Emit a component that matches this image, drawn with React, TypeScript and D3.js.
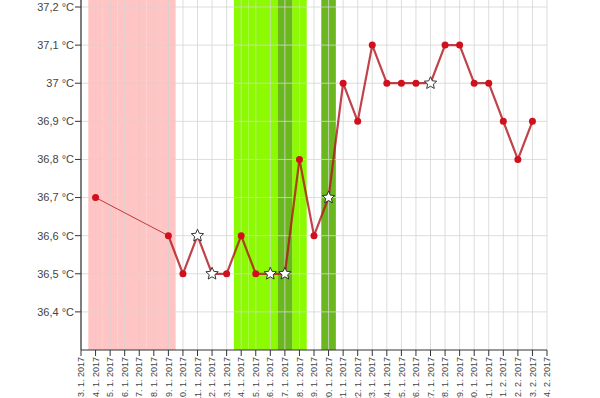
import React from "react";
import * as d3 from "d3";

const dayLabels = [
  "3. 1. 2017", "4. 1. 2017", "5. 1. 2017", "6. 1. 2017", "7. 1. 2017", "8. 1. 2017",
  "9. 1. 2017", "10. 1. 2017", "11. 1. 2017", "12. 1. 2017", "13. 1. 2017", "14. 1. 2017",
  "15. 1. 2017", "16. 1. 2017", "17. 1. 2017", "18. 1. 2017", "19. 1. 2017", "20. 1. 2017",
  "21. 1. 2017", "22. 1. 2017", "23. 1. 2017", "24. 1. 2017", "25. 1. 2017", "26. 1. 2017",
  "27. 1. 2017", "28. 1. 2017", "29. 1. 2017", "30. 1. 2017", "31. 1. 2017", "1. 2. 2017",
  "2. 2. 2017", "3. 2. 2017", "4. 2. 2017",
];

// temperature per day (null = no measurement)
const temps: (number | null)[] = [
  null, 36.7, null, null, null, null, 36.6, 36.5, 36.6, 36.5, 36.5, 36.6,
  36.5, 36.5, 36.5, 36.8, 36.6, 36.7, 37.0, 36.9, 37.1, 37.0, 37.0, 37.0,
  37.0, 37.1, 37.1, 37.0, 37.0, 36.9, 36.8, 36.9, null,
];

// days marked with a star
const starDays = [
  "11. 1. 2017", "12. 1. 2017", "16. 1. 2017", "17. 1. 2017", "20. 1. 2017", "27. 1. 2017",
];

const pinkDays = ["4. 1. 2017", "5. 1. 2017", "6. 1. 2017", "7. 1. 2017", "8. 1. 2017", "9. 1. 2017"];
const lightGreenDays = ["14. 1. 2017", "15. 1. 2017", "16. 1. 2017", "18. 1. 2017"];
const darkGreenDays = ["17. 1. 2017", "20. 1. 2017"];

const yTicks = [36.4, 36.5, 36.6, 36.7, 36.8, 36.9, 37.0, 37.1, 37.2];

const W = 600;
const H = 398;
const left = 81;
const right = 547;
const axisY = 350;
const top = 0;

function starPath(cx: number, cy: number, R: number, r: number) {
  const pts: string[] = [];
  for (let i = 0; i < 10; i++) {
    const a = -Math.PI / 2 + (i * Math.PI) / 5;
    const rad = i % 2 === 0 ? R : r;
    pts.push(`${(cx + rad * Math.cos(a)).toFixed(2)},${(cy + rad * Math.sin(a)).toFixed(2)}`);
  }
  return "M" + pts.join("L") + "Z";
}

export default function App() {
  const x = d3.scalePoint<string>().domain(dayLabels).range([left, right]);
  const y = d3.scaleLinear().domain([36.3, 37.2]).range([axisY, 7]);
  const step = x.step();
  const fmt = (v: number) => d3.format(".1~f")(v).replace(".", ",") + " °C";

  const pts = dayLabels
    .map((d, i) => ({ d, i, v: temps[i] }))
    .filter((p) => p.v !== null) as { d: string; i: number; v: number }[];

  const segs = pts.slice(1).map((p, k) => {
    const a = pts[k];
    return { a, b: p, thin: p.i - a.i > 1 };
  });

  const band = (days: string[], fill: string, key: string) =>
    days.map((d) => (
      <rect key={key + d} x={(x(d) as number) - step / 2} y={top} width={step} height={axisY - top} fill={fill} />
    ));

  return (
    <svg width={W} height={H} style={{ position: "absolute", left: 0, top: 0, background: "#fff" }}
      fontFamily="'Liberation Sans', Arial, sans-serif">
      {band(pinkDays, "#ffc4c4", "p")}
      {band(lightGreenDays, "#8cfa00", "lg")}
      {band(darkGreenDays, "#6ab81e", "dg")}
      {/* grid */}
      {dayLabels.map((d) => (
        <line key={"gv" + d} x1={x(d)} x2={x(d)} y1={top} y2={axisY} stroke="#d4d4d4" strokeOpacity={0.8} strokeWidth={1} />
      ))}
      {yTicks.map((t) => (
        <line key={"gh" + t} x1={left} x2={right} y1={y(t)} y2={y(t)} stroke="#d4d4d4" strokeOpacity={0.8} strokeWidth={1} />
      ))}
      {/* y axis */}
      <line x1={left} x2={left} y1={top} y2={axisY} stroke="#333" strokeWidth={1.2} />
      {yTicks.map((t) => (
        <g key={"yt" + t}>
          <line x1={left - 6} x2={left} y1={y(t)} y2={y(t)} stroke="#333" />
          <text x={left - 7} y={y(t)} dy="0.35em" textAnchor="end" fontSize={11} fill="#444">{fmt(t)}</text>
        </g>
      ))}
      {/* x axis */}
      <line x1={left} x2={right} y1={axisY} y2={axisY} stroke="#333" strokeWidth={1.2} />
      {dayLabels.map((d) => (
        <g key={"xt" + d} transform={`translate(${x(d)},${axisY})`}>
          <line y1={0} y2={6} stroke="#333" />
          <text transform="rotate(-90)" x={-7} y={0} dy="0.35em" textAnchor="end" fontSize={9} fill="#444">{d}</text>
        </g>
      ))}
      {/* line */}
      {segs.map((s, k) => (
        <line key={"s" + k} x1={x(s.a.d)} y1={y(s.a.v)} x2={x(s.b.d)} y2={y(s.b.v)}
          stroke="#b0141c" strokeOpacity={0.8} strokeWidth={s.thin ? 1 : 2.2} strokeLinecap="round" />
      ))}
      {/* points */}
      {pts.map((p) =>
        starDays.includes(p.d) ? (
          <path key={"pt" + p.d} d={starPath(x(p.d) as number, y(p.v), 6.5, 3)} fill="#fff" stroke="#222" strokeWidth={0.9} strokeLinejoin="round" />
        ) : (
          <circle key={"pt" + p.d} cx={x(p.d)} cy={y(p.v)} r={3.5} fill="#d0101c" />
        )
      )}
    </svg>
  );
}
